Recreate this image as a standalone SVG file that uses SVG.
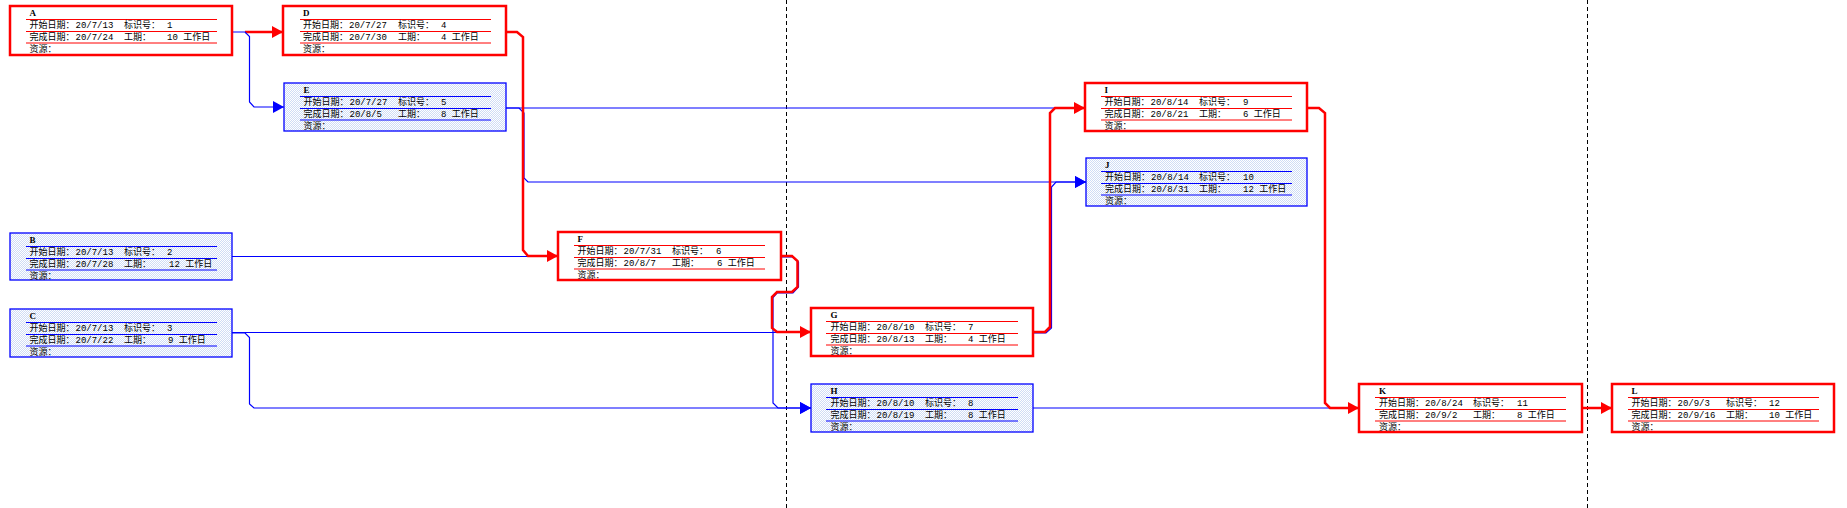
<svg xmlns="http://www.w3.org/2000/svg" width="1847" height="508" viewBox="0 0 1847 508">
<style>
.bg{fill:#ffffff}
.rbox{fill:#ffffff;stroke:#ff0000;stroke-width:2.5}
.bbox{fill:url(#dots);stroke:#0000ff;stroke-width:1.3}
.rl{stroke:#ff0000;stroke-width:1}
.bl{stroke:#0000ff;stroke-width:1}
.t{font-family:"Liberation Serif","Noto Sans CJK SC",serif;font-weight:bold;font-size:9px;fill:#000}
.f{font-family:"Liberation Mono","Noto Sans CJK SC",monospace;font-size:9px;fill:#000}
.cr{fill:none;stroke:#ff0000;stroke-width:2.5;stroke-linejoin:miter}
.cb{fill:none;stroke:#0000ff;stroke-width:1.2}
.dash{stroke:#000;stroke-width:1;stroke-dasharray:4 3}
</style>
<defs>
<pattern id="dots" width="2" height="2" patternUnits="userSpaceOnUse">
<rect width="2" height="2" fill="#ffffff"/>
<rect width="1" height="1" fill="#cfdcf5"/>
<rect x="1" y="1" width="1" height="1" fill="#cfdcf5"/>
</pattern>
<marker id="ar" markerWidth="12" markerHeight="12" refX="11" refY="6" orient="auto" markerUnits="userSpaceOnUse">
<path d="M0,0 L11,6 L0,12 z" fill="#ff0000"/>
</marker>
<marker id="ab" markerWidth="12" markerHeight="12" refX="11" refY="6" orient="auto" markerUnits="userSpaceOnUse">
<path d="M0,0 L11,6 L0,12 z" fill="#0000ff"/>
</marker>
</defs>
<rect class="bg" width="1847" height="508"/>
<g id="dividers">
<line class="dash" x1="786.5" y1="0" x2="786.5" y2="508"/>
<line class="dash" x1="1587.5" y1="0" x2="1587.5" y2="508"/>
</g>
<g id="connectors">
<path class="cb" d="M506,108 H1085"/>
<path class="cb" d="M506,108 H519 L524,113 V178 L528,182 H1086" marker-end="url(#ab)"/>
<path class="cb" d="M232,256.5 H530"/>
<path class="cb" d="M232,332.5 H811"/>
<path class="cb" d="M232,333 H245 L249.5,337.5 V404 L254,408 H811" marker-end="url(#ab)"/>
<path class="cb" d="M781,257 H793 L798.5,262 V287 L793,293 H777 L773,297.5 V403 L778,408 H811" marker-end="url(#ab)"/>
<path class="cb" d="M1033,333 H1046 L1051.5,328 V187 L1056,182 H1086" marker-end="url(#ab)"/>
<path class="cb" d="M1033,408 H1340"/>
<path class="cr" d="M245,32 H283" marker-end="url(#ar)"/>
<path class="cb" d="M232,32 H245 L249.5,36.5 V102 L254,107 H284" marker-end="url(#ab)"/>
<path class="cr" d="M506,32 H517 L523,37 V250 L528,256 H558" marker-end="url(#ar)"/>
<path class="cr" d="M781,256 H792 L797.5,261 V287 L792,292 H777 L772,297 V328 L777,332 H811" marker-end="url(#ar)"/>
<path class="cr" d="M1033,332 H1045 L1050,327 V113 L1055,108 H1085" marker-end="url(#ar)"/>
<path class="cr" d="M1307,108 H1319 L1325,113 V403 L1330,408 H1359" marker-end="url(#ar)"/>
<path class="cr" d="M1582,408 H1612" marker-end="url(#ar)"/>
</g>

<g id="node-A" transform="translate(10,6)">
<rect class="rbox" width="222" height="49"/>
<text class="t" x="19.5" y="10">A</text>
<line class="rl" x1="16" x2="207" y1="13.5" y2="13.5"/>
<text class="f" y="22"><tspan x="19.5">开始日期：</tspan><tspan x="65.5">20/7/13</tspan><tspan x="114">标识号：</tspan><tspan x="157">1</tspan></text>
<line class="rl" x1="16" x2="207" y1="25.5" y2="25.5"/>
<text class="f" y="34"><tspan x="19.5">完成日期：</tspan><tspan x="65.5">20/7/24</tspan><tspan x="114">工期：</tspan><tspan x="157">10 工作日</tspan></text>
<line class="rl" x1="16" x2="207" y1="37" y2="37"/>
<text class="f" x="19.5" y="46">资源：</text>
</g>

<g id="node-B" transform="translate(10,233)">
<rect class="bbox" width="222" height="47"/>
<text class="t" x="19.5" y="10">B</text>
<line class="bl" x1="16" x2="207" y1="13.5" y2="13.5"/>
<text class="f" y="22"><tspan x="19.5">开始日期：</tspan><tspan x="65.5">20/7/13</tspan><tspan x="114">标识号：</tspan><tspan x="157">2</tspan></text>
<line class="bl" x1="16" x2="207" y1="25.5" y2="25.5"/>
<text class="f" y="34"><tspan x="19.5">完成日期：</tspan><tspan x="65.5">20/7/28</tspan><tspan x="114">工期：</tspan><tspan x="159">12 工作日</tspan></text>
<line class="bl" x1="16" x2="207" y1="37" y2="37"/>
<text class="f" x="19.5" y="45.5">资源：</text>
</g>

<g id="node-C" transform="translate(10,309)">
<rect class="bbox" width="222" height="48"/>
<text class="t" x="19.5" y="10">C</text>
<line class="bl" x1="16" x2="207" y1="13.5" y2="13.5"/>
<text class="f" y="22"><tspan x="19.5">开始日期：</tspan><tspan x="65.5">20/7/13</tspan><tspan x="114">标识号：</tspan><tspan x="157">3</tspan></text>
<line class="bl" x1="16" x2="207" y1="25.5" y2="25.5"/>
<text class="f" y="34"><tspan x="19.5">完成日期：</tspan><tspan x="65.5">20/7/22</tspan><tspan x="114">工期：</tspan><tspan x="158">9 工作日</tspan></text>
<line class="bl" x1="16" x2="207" y1="37" y2="37"/>
<text class="f" x="19.5" y="46">资源：</text>
</g>

<g id="node-D" transform="translate(283,6)">
<rect class="rbox" width="223" height="49"/>
<text class="t" x="20" y="10">D</text>
<line class="rl" x1="17" x2="208" y1="13.5" y2="13.5"/>
<text class="f" y="22"><tspan x="20">开始日期：</tspan><tspan x="66">20/7/27</tspan><tspan x="115">标识号：</tspan><tspan x="158">4</tspan></text>
<line class="rl" x1="17" x2="208" y1="25.5" y2="25.5"/>
<text class="f" y="34"><tspan x="20">完成日期：</tspan><tspan x="66">20/7/30</tspan><tspan x="115">工期：</tspan><tspan x="158">4 工作日</tspan></text>
<line class="rl" x1="17" x2="208" y1="37" y2="37"/>
<text class="f" x="20" y="46">资源：</text>
</g>

<g id="node-E" transform="translate(284,83)">
<rect class="bbox" width="222" height="48"/>
<text class="t" x="19.5" y="10">E</text>
<line class="bl" x1="16" x2="207" y1="13.5" y2="13.5"/>
<text class="f" y="22"><tspan x="19.5">开始日期：</tspan><tspan x="65.5">20/7/27</tspan><tspan x="114">标识号：</tspan><tspan x="157">5</tspan></text>
<line class="bl" x1="16" x2="207" y1="25.5" y2="25.5"/>
<text class="f" y="34"><tspan x="19.5">完成日期：</tspan><tspan x="65.5">20/8/5</tspan><tspan x="114">工期：</tspan><tspan x="157">8 工作日</tspan></text>
<line class="bl" x1="16" x2="207" y1="37" y2="37"/>
<text class="f" x="19.5" y="46">资源：</text>
</g>

<g id="node-F" transform="translate(558,232)">
<rect class="rbox" width="223" height="48"/>
<text class="t" x="19.5" y="10">F</text>
<line class="rl" x1="16" x2="207" y1="13.5" y2="13.5"/>
<text class="f" y="22"><tspan x="19.5">开始日期：</tspan><tspan x="65.5">20/7/31</tspan><tspan x="114">标识号：</tspan><tspan x="158">6</tspan></text>
<line class="rl" x1="16" x2="207" y1="25.5" y2="25.5"/>
<text class="f" y="34"><tspan x="19.5">完成日期：</tspan><tspan x="65.5">20/8/7</tspan><tspan x="114">工期：</tspan><tspan x="159">6 工作日</tspan></text>
<line class="rl" x1="16" x2="207" y1="37" y2="37"/>
<text class="f" x="19.5" y="46">资源：</text>
</g>

<g id="node-G" transform="translate(811,308)">
<rect class="rbox" width="222" height="48"/>
<text class="t" x="19.5" y="10">G</text>
<line class="rl" x1="15" x2="207" y1="13.5" y2="13.5"/>
<text class="f" y="22"><tspan x="19.5">开始日期：</tspan><tspan x="65.5">20/8/10</tspan><tspan x="114">标识号：</tspan><tspan x="157">7</tspan></text>
<line class="rl" x1="15" x2="207" y1="25.5" y2="25.5"/>
<text class="f" y="34"><tspan x="19.5">完成日期：</tspan><tspan x="65.5">20/8/13</tspan><tspan x="114">工期：</tspan><tspan x="157">4 工作日</tspan></text>
<line class="rl" x1="15" x2="207" y1="37" y2="37"/>
<text class="f" x="19.5" y="46">资源：</text>
</g>

<g id="node-H" transform="translate(811,384)">
<rect class="bbox" width="222" height="48"/>
<text class="t" x="19.5" y="10">H</text>
<line class="bl" x1="15" x2="207" y1="13.5" y2="13.5"/>
<text class="f" y="22"><tspan x="19.5">开始日期：</tspan><tspan x="65.5">20/8/10</tspan><tspan x="114">标识号：</tspan><tspan x="157">8</tspan></text>
<line class="bl" x1="15" x2="207" y1="25.5" y2="25.5"/>
<text class="f" y="34"><tspan x="19.5">完成日期：</tspan><tspan x="65.5">20/8/19</tspan><tspan x="114">工期：</tspan><tspan x="157">8 工作日</tspan></text>
<line class="bl" x1="15" x2="207" y1="37" y2="37"/>
<text class="f" x="19.5" y="46">资源：</text>
</g>

<g id="node-I" transform="translate(1085,83)">
<rect class="rbox" width="222" height="48"/>
<text class="t" x="19.5" y="10">I</text>
<line class="rl" x1="16" x2="207" y1="13.5" y2="13.5"/>
<text class="f" y="22"><tspan x="19.5">开始日期：</tspan><tspan x="65.5">20/8/14</tspan><tspan x="114">标识号：</tspan><tspan x="158">9</tspan></text>
<line class="rl" x1="16" x2="207" y1="25.5" y2="25.5"/>
<text class="f" y="34"><tspan x="19.5">完成日期：</tspan><tspan x="65.5">20/8/21</tspan><tspan x="114">工期：</tspan><tspan x="158">6 工作日</tspan></text>
<line class="rl" x1="16" x2="207" y1="37" y2="37"/>
<text class="f" x="19.5" y="46">资源：</text>
</g>

<g id="node-J" transform="translate(1086,158)">
<rect class="bbox" width="221" height="48"/>
<text class="t" x="19" y="10">J</text>
<line class="bl" x1="15" x2="206" y1="13.5" y2="13.5"/>
<text class="f" y="22"><tspan x="19">开始日期：</tspan><tspan x="65">20/8/14</tspan><tspan x="113">标识号：</tspan><tspan x="157">10</tspan></text>
<line class="bl" x1="15" x2="206" y1="25.5" y2="25.5"/>
<text class="f" y="34"><tspan x="19">完成日期：</tspan><tspan x="65">20/8/31</tspan><tspan x="113">工期：</tspan><tspan x="157">12 工作日</tspan></text>
<line class="bl" x1="15" x2="206" y1="37" y2="37"/>
<text class="f" x="19" y="46">资源：</text>
</g>

<g id="node-K" transform="translate(1359,384)">
<rect class="rbox" width="223" height="48"/>
<text class="t" x="20" y="10">K</text>
<line class="rl" x1="16" x2="207" y1="13.5" y2="13.5"/>
<text class="f" y="22"><tspan x="20">开始日期：</tspan><tspan x="66">20/8/24</tspan><tspan x="114">标识号：</tspan><tspan x="158">11</tspan></text>
<line class="rl" x1="16" x2="207" y1="25.5" y2="25.5"/>
<text class="f" y="34"><tspan x="20">完成日期：</tspan><tspan x="66">20/9/2</tspan><tspan x="114">工期：</tspan><tspan x="158">8 工作日</tspan></text>
<line class="rl" x1="16" x2="207" y1="37" y2="37"/>
<text class="f" x="20" y="46">资源：</text>
</g>

<g id="node-L" transform="translate(1612,384)">
<rect class="rbox" width="222" height="48"/>
<text class="t" x="19.5" y="10">L</text>
<line class="rl" x1="16" x2="207" y1="13.5" y2="13.5"/>
<text class="f" y="22"><tspan x="19.5">开始日期：</tspan><tspan x="65.5">20/9/3</tspan><tspan x="114">标识号：</tspan><tspan x="157">12</tspan></text>
<line class="rl" x1="16" x2="207" y1="25.5" y2="25.5"/>
<text class="f" y="34"><tspan x="19.5">完成日期：</tspan><tspan x="65.5">20/9/16</tspan><tspan x="114">工期：</tspan><tspan x="157">10 工作日</tspan></text>
<line class="rl" x1="16" x2="207" y1="37" y2="37"/>
<text class="f" x="19.5" y="46">资源：</text>
</g>
</svg>
